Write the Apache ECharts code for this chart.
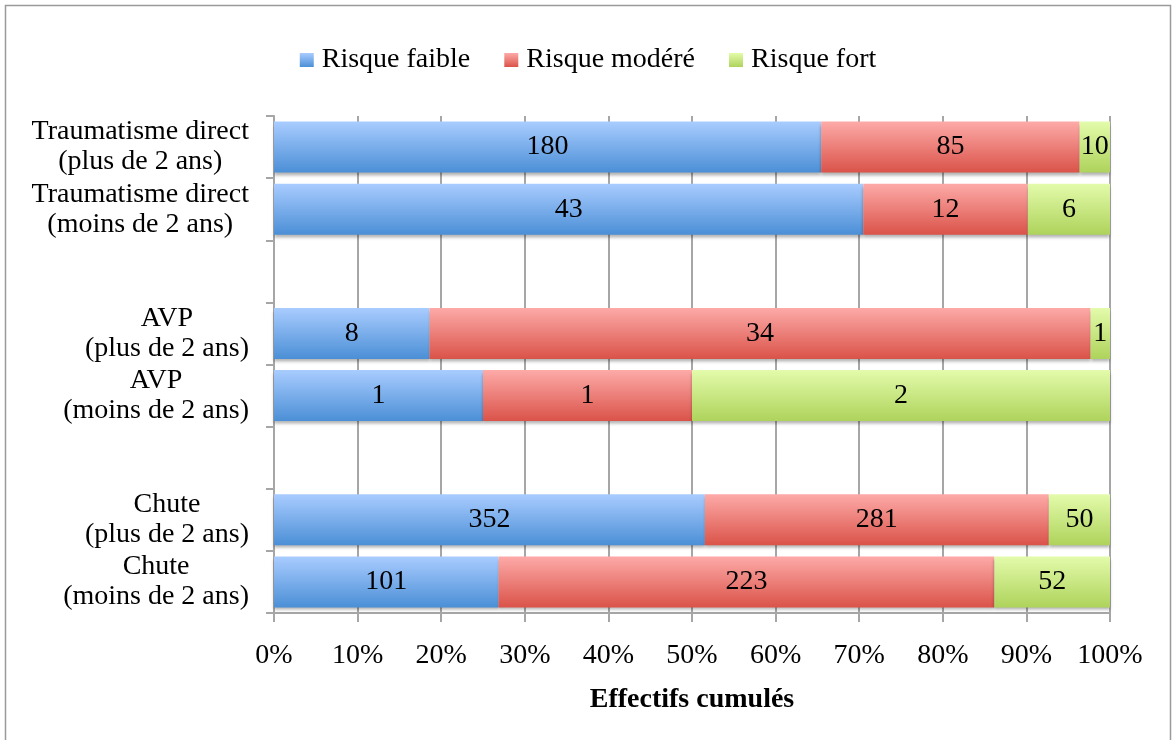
<!DOCTYPE html>
<html>
<head>
<meta charset="utf-8">
<script src="https://cdn.jsdelivr.net/npm/echarts@6/dist/echarts.min.js"></script>
<style>
  html, body { margin: 0; padding: 0; background: #fff; }
  #chart { width: 1176px; height: 740px; }
</style>
</head>
<body>
<div id="chart"></div>
<script>
// Categories from top to bottom; empty strings leave a gap between groups
const categories = [
  'Traumatisme direct\n(plus de 2 ans)',
  'Traumatisme direct\n(moins de 2 ans)',
  '',
  'AVP\n(plus de 2 ans)',
  'AVP\n(moins de 2 ans)',
  '',
  'Chute\n(plus de 2 ans)',
  'Chute\n(moins de 2 ans)'
];
const seriesNames = ['Risque faible', 'Risque modéré', 'Risque fort'];
// Counts per category (null for the gap rows)
const faible = [180, 43, null, 8, 1, null, 352, 101];
const modere = [85, 12, null, 34, 1, null, 281, 223];
const fort   = [10, 6, null, 1, 2, null, 50, 52];
const xTicks = ['0%', '10%', '20%', '30%', '40%', '50%', '60%', '70%', '80%', '90%', '100%'];

const FONT = 'Liberation Serif';
const FS = 28;

const counts = [faible, modere, fort];
const totals = categories.map((_, i) =>
  counts.reduce((s, arr) => s + (arr[i] == null ? 0 : arr[i]), 0));
const toPercent = arr => arr.map((v, i) => v == null ? null : v / totals[i] * 100);

function grad(top, bottom) {
  return new echarts.graphic.LinearGradient(0, 0, 0, 1, [
    { offset: 0, color: top },
    { offset: 1, color: bottom }
  ]);
}
const fills = [
  grad('#a9ccff', '#4b8fd6'),
  grad('#fdaaa8', '#da5349'),
  grad('#e3fbab', '#aed35b')
];

const chart = echarts.init(document.getElementById('chart'), null, { renderer: 'canvas' });

const series = counts.map((arr, k) => ({
  name: seriesNames[k],
  type: 'bar',
  stack: 'total',
  barWidth: 51,
  data: toPercent(arr),
  itemStyle: {
    color: fills[k],
    shadowColor: 'rgba(0,0,0,0.3)',
    shadowBlur: 3,
    shadowOffsetY: 3
  },
  label: {
    show: true,
    position: 'inside',
    color: '#000',
    fontFamily: FONT,
    fontSize: FS,
    formatter: p => arr[p.dataIndex]
  },
  emphasis: { disabled: true }
}));

chart.setOption({
  animation: false,
  backgroundColor: '#fff',
  textStyle: { fontFamily: FONT },
  graphic: [{
    type: 'rect',
    shape: { x: 5.5, y: 5.5, width: 1165, height: 760 },
    style: { fill: 'none', stroke: '#9a9a9a', lineWidth: 1.5 },
    silent: true
  }],
  legend: {
    top: 41,
    left: 'center',
    itemWidth: 14,
    itemHeight: 14,
    itemGap: 34,
    icon: 'rect',
    textStyle: { fontFamily: FONT, fontSize: FS, color: '#000', padding: [0, 0, 0, 3] },
    data: seriesNames
  },
  grid: { left: 274, right: 66, top: 116, bottom: 127, containLabel: false },
  xAxis: {
    type: 'value',
    min: 0,
    max: 100,
    interval: 10,
    name: 'Effectifs cumulés',
    nameLocation: 'middle',
    nameGap: 73,
    nameTextStyle: { fontFamily: FONT, fontSize: 28, fontWeight: 'bold', color: '#000' },
    axisLine: { show: true, lineStyle: { color: '#a6a6a6', width: 2 } },
    axisTick: { show: true, length: 9, lineStyle: { color: '#a6a6a6', width: 2 } },
    axisLabel: {
      margin: 29,
      fontFamily: FONT,
      fontSize: FS,
      color: '#000',
      formatter: v => xTicks[Math.round(v / 10)]
    },
    splitLine: { show: true, lineStyle: { color: '#a6a6a6', width: 2 } }
  },
  yAxis: {
    type: 'category',
    inverse: true,
    data: categories,
    axisLine: { show: true, lineStyle: { color: '#a6a6a6', width: 2 } },
    axisTick: { show: true, length: 8, lineStyle: { color: '#a6a6a6', width: 2 } },
    axisLabel: {
      margin: 25,
      align: 'right',
      color: '#000',
      formatter: v => v ? v.split('\n').map(s => '{c|' + s + '}').join('\n') : '',
      rich: {
        c: { align: 'center', fontFamily: FONT, fontSize: FS, lineHeight: 30, color: '#000' }
      }
    },
    splitLine: { show: false }
  },
  series: series
});
</script>
</body>
</html>
